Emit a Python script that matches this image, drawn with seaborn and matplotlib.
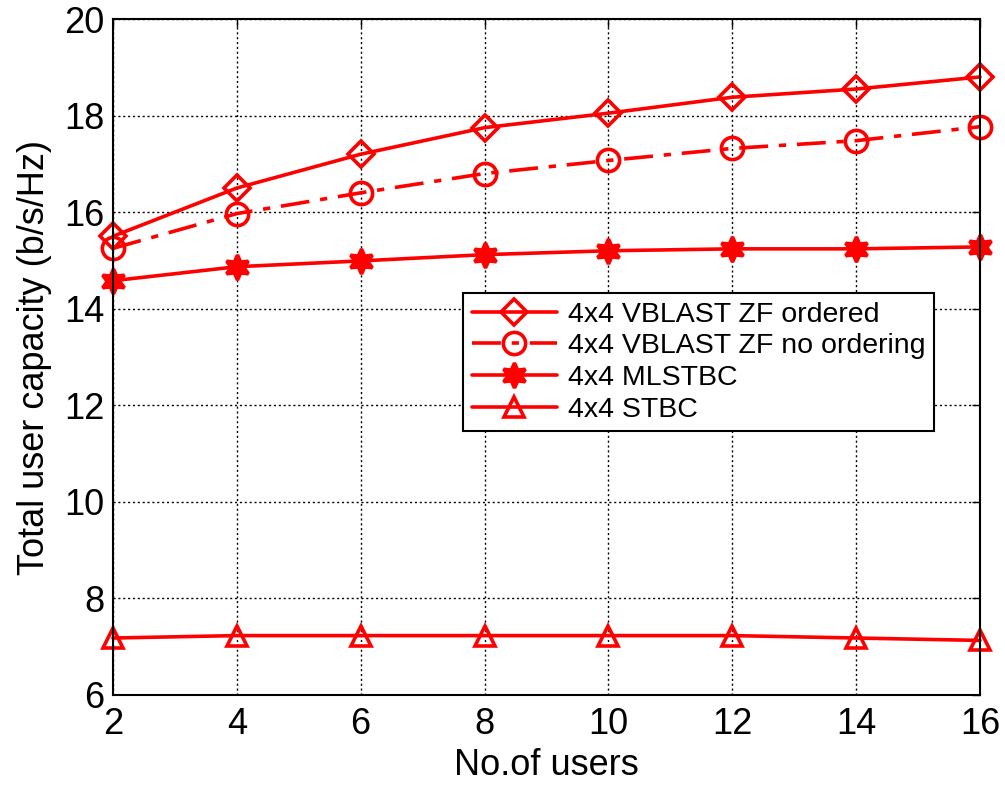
import numpy as np
import pandas as pd
import matplotlib
matplotlib.use("Agg")
import matplotlib.pyplot as plt
import seaborn as sns

users = [2, 4, 6, 8, 10, 12, 14, 16]
vblast_ordered = [15.5, 16.5, 17.2, 17.75, 18.05, 18.38, 18.55, 18.8]
vblast_no_order = [15.25, 15.97, 16.4, 16.8, 17.07, 17.32, 17.48, 17.77]
mlstbc = [14.58, 14.87, 14.99, 15.12, 15.2, 15.24, 15.24, 15.28]
stbc = [7.18, 7.23, 7.23, 7.23, 7.23, 7.23, 7.18, 7.13]

labels = ["4x4 VBLAST ZF ordered", "4x4 VBLAST ZF no ordering",
          "4x4 MLSTBC", "4x4 STBC"]

sns.set_style("white")
plt.rcParams["font.family"] = ["Liberation Sans", "DejaVu Sans"]
plt.rcParams["text.color"] = "black"
plt.rcParams["axes.labelcolor"] = "black"

df = pd.DataFrame({
    "users": users * 4,
    "capacity": vblast_ordered + vblast_no_order + mlstbc + stbc,
    "scheme": sum([[l] * len(users) for l in labels], []),
})

fig = plt.figure(figsize=(10.05, 7.86), dpi=100)
ax = fig.add_axes([0.1124, 0.1158, 0.8627, 0.86])

red = "#ff0000"
star6 = (6, 1, 0)
styles = {
    labels[0]: dict(marker="D", ls="-", ms=13, mfc="none"),
    labels[1]: dict(marker="o", ls=(0, (8, 3, 2, 3)), ms=16, mfc="none"),
    labels[2]: dict(marker=star6, ls="-", ms=18, mfc=red),
    labels[3]: dict(marker="^", ls="-", ms=15, mfc="none"),
}

for lab in labels:
    st = styles[lab]
    sns.lineplot(data=df[df["scheme"] == lab], x="users", y="capacity",
                 ax=ax, color=red, lw=2.6, marker=st["marker"],
                 linestyle=st["ls"], markersize=st["ms"],
                 markerfacecolor=st["mfc"], markeredgecolor=red,
                 markeredgewidth=2.6, label=lab, errorbar=None,
                 clip_on=False, zorder=5)

ax.set_xlim(2, 16)
ax.set_ylim(6, 20)
ax.set_xticks(users)
ax.set_yticks(np.arange(6, 21, 2))
ax.grid(True, color="black", linestyle=(0, (1.5, 2)), linewidth=1.0)
ax.tick_params(axis="both", direction="in", top=True, right=True,
               labelsize=26, length=6, width=1, colors="black")
ax.tick_params(axis="x", pad=9)
ax.tick_params(axis="y", pad=6)
for sp in ax.spines.values():
    sp.set_color("black")
    sp.set_linewidth(1.5)
    sp.set_zorder(6)

ax.set_xlabel("No.of users", fontsize=26, labelpad=4)
ax.set_ylabel("Total user capacity (b/s/Hz)", fontsize=26, labelpad=9)

leg = ax.legend(loc="upper left", bbox_to_anchor=(0.4037, 0.5947),
                fontsize=20.5, frameon=True, fancybox=False, framealpha=1,
                edgecolor="black", handlelength=3.0, borderpad=0.3,
                labelspacing=0.2, handletextpad=0.4, borderaxespad=0)
leg.get_frame().set_linewidth(1.5)
leg.set_zorder(10)

fig.savefig("out.png", dpi=100)
